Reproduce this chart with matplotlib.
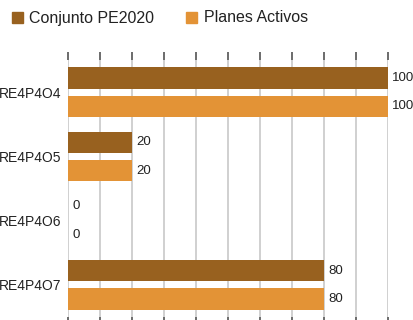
import matplotlib.pyplot as plt
import numpy as np

# categories and the two series
categorias = ['RE4P4O4', 'RE4P4O5', 'RE4P4O6', 'RE4P4O7']
conjunto_pe2020 = [100, 20, 0, 80]
planes_activos = [100, 20, 0, 80]
series = ['Conjunto PE2020', 'Planes Activos']

col_conjunto = '#98611f'
col_planes = '#e39336'

fig = plt.figure(figsize=(4.14, 3.2), dpi=100)
ax = fig.add_axes([68 / 414, 3 / 320, 320 / 414, 257 / 320])

y = np.arange(len(categorias))
h = 0.33
off = 0.22

b1 = ax.barh(y - off, conjunto_pe2020, height=h, color=col_conjunto,
             linewidth=0, zorder=3)
b2 = ax.barh(y + off, planes_activos, height=h, color=col_planes,
             linewidth=0, zorder=3)

# value labels to the right of each bar
for bars, vals in ((b1, conjunto_pe2020), (b2, planes_activos)):
    for rect, v in zip(bars, vals):
        ax.annotate(str(v), (v, rect.get_y() + rect.get_height() / 2),
                    xytext=(3, 0), textcoords='offset points',
                    va='center', ha='left', fontsize=9.5, color='#222222',
                    family=['Liberation Sans Narrow', 'Liberation Sans'])

ticks = np.arange(0, 101, 10)
ax.set_xlim(0, 100)
ax.set_ylim(3.5, -0.5)
ax.set_xticks(ticks)
ax.tick_params(axis='x', top=True, bottom=True, labelbottom=False,
               labeltop=False, direction='out', length=6, width=1.1,
               color='#444444')
ax.grid(axis='x', color='#c8c8c8', linewidth=1.2, zorder=0)

ax.set_yticks(y)
ax.set_yticklabels(categorias, family='Liberation Sans', fontsize=10, color='#222222')
ax.tick_params(axis='y', length=0, pad=5)

for s in ax.spines.values():
    s.set_visible(False)

# legend across the top
fig.patches.append(plt.Rectangle((12 / 414, 1 - 23 / 320), 11 / 414, 11 / 320,
                                 transform=fig.transFigure, color=col_conjunto))
fig.text(29 / 414, 1 - 18 / 320, series[0], va='center', ha='left',
         family='Liberation Sans', fontsize=11.5, color='#222222')
fig.patches.append(plt.Rectangle((186 / 414, 1 - 23 / 320), 11 / 414, 11 / 320,
                                 transform=fig.transFigure, color=col_planes))
fig.text(204 / 414, 1 - 18 / 320, series[1], va='center', ha='left',
         family='Liberation Sans', fontsize=11.5, color='#222222')

fig.savefig('out.png', dpi=100)
